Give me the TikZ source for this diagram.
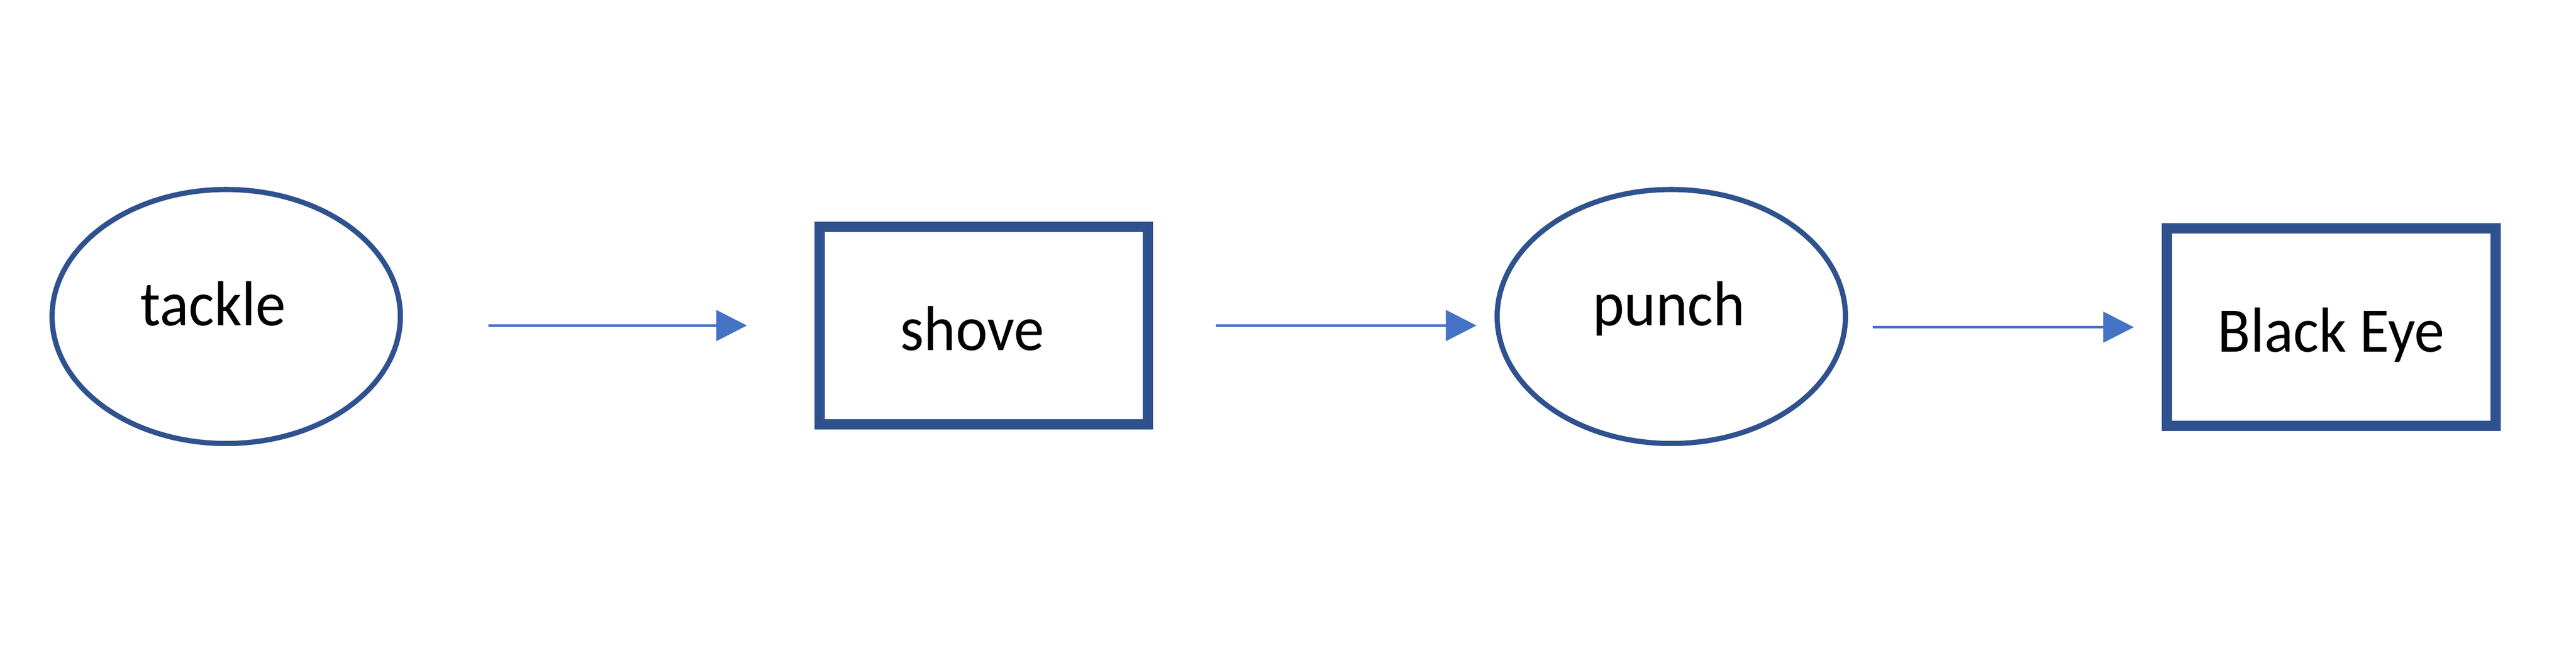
\documentclass[tikz,border=0pt]{standalone}
\usepackage{fontspec}
\setmainfont{Carlito}[FakeStretch=0.95]
\usetikzlibrary{shapes.geometric,arrows.meta}
\definecolor{shapeblue}{HTML}{2F528F}
\definecolor{arrowblue}{HTML}{4472C4}
\begin{document}
\begin{tikzpicture}[
                    font=\fontsize{11}{13}\selectfont,
                    act/.style={ellipse,draw=shapeblue,line width=0.9pt,inner sep=0pt,
                        minimum width=2.12cm,minimum height=1.545cm,text height=0.3cm,text depth=0.19cm},
                    result/.style={rectangle,draw=shapeblue,line width=1.8pt,inner sep=0pt,
                        minimum width=2cm,minimum height=1.2cm,text height=0.3cm,text depth=0cm},
                    flow/.style={draw=arrowblue,line width=0.45pt,-{Triangle[length=5.3pt,width=5.3pt]}}
                ]
                    \useasboundingbox (0,0) rectangle (15.68,3.92);
                    \node[act] (tackle) at (1.377,1.995) {\hspace*{-0.16cm}tackle};
                    \node[result] (shove) at (5.988,1.94) {\hspace*{-0.14cm}shove};
                    \node[act] (punch) at (10.173,1.995) {\hspace*{-0.03cm}punch};
                    \node[result] (blackeye) at (14.19,1.93) {Black Eye};
                    \draw[flow,shorten <=0.52cm,shorten >=0.41cm] (tackle.east |- shove.west) -- (shove.west);
                    \draw[flow,shorten <=0.38cm,shorten >=0.11cm] (shove.east) -- (punch.west |- shove.east);
                    \draw[flow,shorten <=0.15cm,shorten >=0.17cm] (punch.east |- blackeye.west) -- (blackeye.west);
                \end{tikzpicture}
\end{document}
